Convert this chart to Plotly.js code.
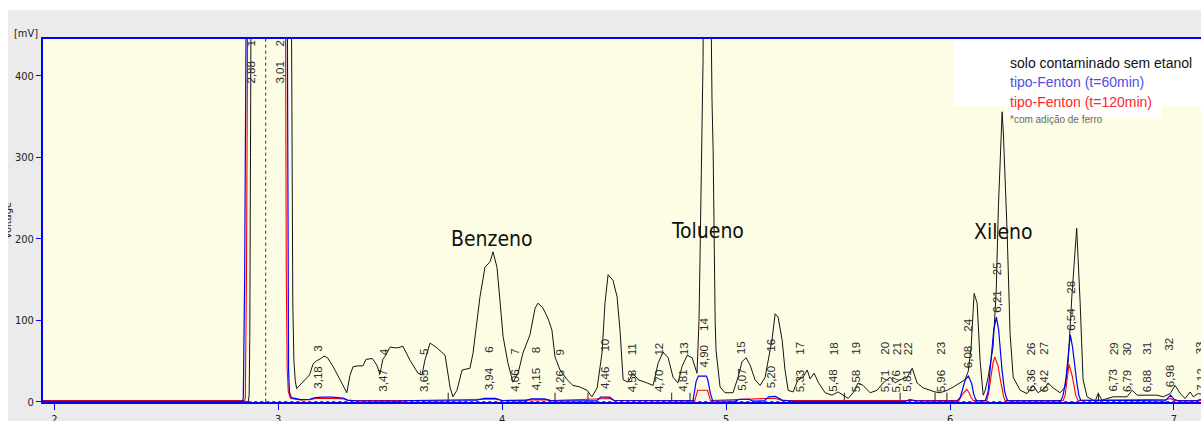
<!DOCTYPE html>
<html>
<head>
<meta charset="utf-8">
<script src="https://cdn.plot.ly/plotly-3.0.1.min.js"></script>
<style>
  html, body { margin: 0; padding: 0; background: #ffffff; width: 1201px; height: 421px; overflow: hidden; }
  #chart { position: absolute; left: 8px; top: 10px; width: 1193px; height: 411px; overflow: hidden; }
</style>
</head>
<body>
<div id="chart"></div>
<script>
// Chromatogram traces: retention time (min) vs detector signal (mV)
const blackTime = [1.945,2.866,2.870,2.873,2.876,2.879,2.884,3.052,3.057,3.061,3.065,3.070,3.076,3.082,3.10,3.12,3.14,3.155,3.17,3.19,3.205,3.22,3.245,3.276,3.306,3.320,3.334,3.356,3.378,3.392,3.420,3.440,3.454,3.467,3.480,3.499,3.530,3.557,3.588,3.624,3.642,3.655,3.678,3.709,3.745,3.767,3.780,3.798,3.821,3.856,3.870,3.901,3.923,3.946,3.959,3.977,3.990,4.004,4.026,4.048,4.071,4.093,4.124,4.147,4.160,4.182,4.205,4.222,4.236,4.258,4.290,4.316,4.348,4.379,4.401,4.424,4.446,4.459,4.473,4.495,4.513,4.526,4.540,4.562,4.584,4.607,4.647,4.674,4.696,4.718,4.741,4.763,4.785,4.803,4.826,4.848,4.870,4.879,4.884,4.892,4.897,4.901,4.915,4.928,4.933,4.937,4.942,4.946,4.951,4.955,4.964,4.973,4.995,5.031,5.053,5.071,5.089,5.107,5.129,5.152,5.174,5.187,5.205,5.219,5.232,5.250,5.263,5.277,5.299,5.321,5.344,5.362,5.375,5.393,5.411,5.442,5.473,5.500,5.522,5.545,5.567,5.589,5.612,5.643,5.674,5.701,5.732,5.755,5.777,5.808,5.831,5.853,5.880,5.911,5.933,5.956,5.987,6.014,6.045,6.067,6.081,6.094,6.1075,6.121,6.134,6.148,6.157,6.170,6.192,6.206,6.216,6.226,6.2325,6.238,6.255,6.268,6.282,6.313,6.344,6.371,6.393,6.4245,6.438,6.460,6.4915,6.514,6.527,6.5438,6.5655,6.581,6.594,6.612,6.635,6.648,6.661,6.679,6.728,6.760,6.790,6.813,6.836,6.880,6.925,6.952,6.983,7.005,7.028,7.050,7.072,7.086,7.108,7.140];
const blackMv = [0,0,8,80,300,600,900,900,600,300,120,50,26,16,21,27,33,46,50,53,56,54,43,27,11,32,43,44,44,52,53,45,34,52,57,67,66,68,51,35,33,51,72,66,57,18,6,14,39,41,60,129,165,172,184,165,121,80,47,24,35,60,82,115,121,115,102,88,55,39,27,20,18,14,6,17,60,121,156,149,129,88,27,24,35,27,23,20,47,61,54,30,23,43,57,54,35,100,186,346,420,600,800,600,432,370,309,186,100,63,39,18,11,11,30,49,54,45,27,20,30,51,76,108,104,76,39,14,12,27,30,39,28,35,24,11,8,12,8,4,11,23,20,11,14,23,30,23,27,30,41,23,17,14,12,11,14,18,23,27,37,67,133,121,51,8,14,30,67,135,240,320,356,330,207,84,30,14,10,20,11,17,23,17,11,18,47,129,213,121,27,6,2,0.5,10,2,6,6,6,14,8,8,8,6,10,20,10,4,12,6,10,8];

const blueTime = [1.945,2.840,2.844,2.850,2.856,2.860,3.035,3.039,3.043,3.046,3.050,3.058,3.075,3.10,3.14,3.165,3.20,3.24,3.29,3.31,3.35,3.40,3.55,3.60,3.70,3.88,3.92,3.97,4.00,4.10,4.13,4.19,4.22,4.42,4.44,4.48,4.50,4.852,4.858,4.866,4.876,4.912,4.918,4.930,4.940,5.04,5.06,5.10,5.12,5.17,5.19,5.22,5.25,5.30,5.80,5.82,5.85,6.030,6.045,6.060,6.068,6.082,6.097,6.105,6.112,6.12,6.157,6.170,6.180,6.195,6.207,6.217,6.232,6.243,6.251,6.258,6.494,6.505,6.517,6.529,6.537,6.547,6.556,6.5655,6.575,6.583,6.96,6.975,6.985,7.00,7.02,7.10,7.12,7.14];
const blueMv = [0.5,0.5,5,150,450,900,900,450,150,40,12,5,4,2.5,3,5,5.5,5.5,4.5,2,1,0.8,0.8,1.5,1,1.5,4,4,1.5,1,3.5,3.5,1,1,5.5,5.5,1.5,1,10,25,31.5,31.5,27,10,1,0.8,3,3,0.8,1,6,6.5,2,0.5,0.5,2.5,1,0.8,5,20,27,31.5,22,10,4,1,1,12,39,88,104,88,39,14,5,1,1,8,27,59,82,67,45,25,8,2,1,6,8,3,1,1,3,3];

const redTime = [1.945,2.850,2.853,2.858,2.863,2.868,3.028,3.032,3.036,3.040,3.045,3.055,3.075,3.10,3.14,3.17,3.24,3.29,3.31,3.60,3.92,3.97,4.00,4.13,4.19,4.22,4.44,4.48,4.50,4.860,4.866,4.873,4.917,4.923,4.930,5.19,5.22,5.25,6.040,6.052,6.066,6.0745,6.085,6.0924,6.103,6.164,6.172,6.180,6.192,6.200,6.215,6.224,6.232,6.240,6.246,6.505,6.514,6.522,6.531,6.546,6.554,6.561,6.572,6.975,6.985,7.00,7.14];
const redMv = [1.5,1.5,5,150,450,900,900,450,150,40,12,4,3,2,2.5,4,4,3.5,1.5,1.5,3,3,1.5,2.5,2.5,1.5,4,4,1.5,1.5,7,14,14,8,1.5,4,4,1.5,1.5,8,13,15,11,6,1.5,1.5,10,27,48,55,43,28,14,5,1.5,1.5,8,25,46,31,18,8,1.5,3,4,1.5,1.5];

// Integrated peaks: number and retention time
const peakNumbers = [1,2,3,4,5,6,7,8,9,10,11,12,13,14,15,16,17,18,19,20,21,22,23,24,25,26,27,28,29,30,31,32,33];
const peakTimes = [2.88,3.01,3.18,3.47,3.65,3.94,4.06,4.15,4.26,4.46,4.58,4.70,4.81,4.90,5.07,5.20,5.33,5.48,5.58,5.71,5.76,5.81,5.96,6.08,6.21,6.36,6.42,6.54,6.73,6.79,6.88,6.98,7.12];

// Identified compounds
const compoundNames = ['Benzeno', 'Tolueno', 'Xileno'];
const compoundTimes = [3.94, 4.90, 6.21];

const seriesNames = ['solo contaminado sem etanol', 'tipo-Fenton (t=60min)', 'tipo-Fenton (t=120min)'];
const footnote = '*com adição de ferro';

// Integration cut marks and dead-time marker
const cutTimes = [3.759, 4.236, 4.383, 4.757, 4.839, 5.528, 5.777, 5.933, 5.986, 6.663];
const deadTime = 2.944;

const X_RANGE = [1.9495, 7.1206];
const Y_RANGE = [-0.37, 445.4];

const narrow = '"Liberation Sans Narrow", "DejaVu Sans Condensed", "Liberation Sans", sans-serif';
const sans = '"Liberation Sans", Arial, sans-serif';

function interp(xs, ys, x) {
  if (x <= xs[0]) return ys[0];
  for (let i = 1; i < xs.length; i++) {
    if (x <= xs[i]) {
      const f = (x - xs[i - 1]) / (xs[i] - xs[i - 1]);
      return ys[i - 1] + f * (ys[i] - ys[i - 1]);
    }
  }
  return ys[ys.length - 1];
}

// cut marks as short vertical segments
const cutX = [], cutY = [];
cutTimes.forEach(t => { cutX.push(t, t, null); cutY.push(0, 11, null); });

const traces = [
  { x: blackTime, y: blackMv, mode: 'lines', line: { color: '#141414', width: 1 }, hoverinfo: 'skip' },
  { x: [blackTime[1], X_RANGE[1] + 0.1], y: [0, 0], mode: 'lines', line: { color: '#222', width: 1, dash: '3px,3px' }, hoverinfo: 'skip' },
  { x: [deadTime, deadTime], y: [0, Y_RANGE[1] + 10], mode: 'lines', line: { color: '#333', width: 1, dash: '3px,3px' }, hoverinfo: 'skip' },
  { x: cutX, y: cutY, mode: 'lines', line: { color: '#222', width: 1 }, hoverinfo: 'skip' },
  { x: redTime, y: redMv, mode: 'lines', line: { color: '#ff0000', width: 1.1 }, hoverinfo: 'skip' },
  { x: blueTime, y: blueMv, mode: 'lines', line: { color: '#0000ff', width: 1.2 }, hoverinfo: 'skip' }
];

const annotations = [];
const labelFont = { family: sans, size: 11.5, color: '#2a2a2a' };

// peak labels: retention time just above the blue trace, peak number above it
peakTimes.forEach((t, i) => {
  const base = Math.min(Math.max(interp(blueTime, blueMv, t), 1.5) + 9, 390);
  annotations.push({
    x: t, y: base, xref: 'x', yref: 'y', text: t.toFixed(2).replace('.', ','),
    textangle: -90, showarrow: false, xanchor: 'center', yanchor: 'bottom', font: labelFont,
    borderpad: 0
  });
  annotations.push({
    x: t, y: base, xref: 'x', yref: 'y', text: String(peakNumbers[i]),
    textangle: -90, showarrow: false, xanchor: 'center', yanchor: 'bottom', yshift: 37, font: labelFont,
    borderpad: 0
  });
});

// compound names
const compoundLift = [200, 210, 209];
const compoundShift = [3, 4, 6];
compoundNames.forEach((name, i) => {
  annotations.push({
    x: compoundTimes[i], y: compoundLift[i], xref: 'x', yref: 'y', text: name, showarrow: false,
    xanchor: 'center', yanchor: 'middle', xshift: compoundShift[i],
    font: { family: narrow, size: 21, color: '#111' }
  });
});

// legend block
const legendColors = ['#111111', '#4f4fe0', '#ff2626'];
const legendY = [0.9339, 0.8815, 0.8264];
seriesNames.forEach((name, i) => {
  annotations.push({
    x: 0.8333, y: legendY[i], xref: 'paper', yref: 'paper', text: name, showarrow: false,
    xanchor: 'left', yanchor: 'middle', font: { family: sans, size: 14, color: legendColors[i] }
  });
});
annotations.push({
  x: 0.8333, y: 0.7769, xref: 'paper', yref: 'paper', text: footnote, showarrow: false,
  xanchor: 'left', yanchor: 'middle', font: { family: sans, size: 10, color: '#6a6a6a' }
});

// axis captions
annotations.push({
  x: -0.0147, y: 1.0165, xref: 'paper', yref: 'paper', text: '[mV]', showarrow: false,
  xanchor: 'center', yanchor: 'middle', font: { family: narrow, size: 11, color: '#222' }
});
annotations.push({
  x: 0, y: 0.4986, xref: 'paper', yref: 'paper', text: 'Voltage', showarrow: false, textangle: -90,
  xanchor: 'center', yanchor: 'middle', xshift: -36, font: { family: narrow, size: 11, color: '#222' }
});

const layout = {
  width: 1193, height: 411,
  margin: { l: 35, r: 0, t: 29, b: 19, pad: 0 },
  paper_bgcolor: '#ebebeb',
  plot_bgcolor: '#fdfde6',
  showlegend: false,
  xaxis: {
    range: X_RANGE, tickvals: [2, 3, 4, 5, 6, 7], ticktext: ['2', '3', '4', '5', '6', '7'],
    ticks: 'outside', ticklen: 6, tickwidth: 1, tickcolor: '#0000ff',
    showline: true, linecolor: '#0000ff', linewidth: 2, mirror: true,
    showgrid: false, zeroline: false,
    tickfont: { family: narrow, size: 11, color: '#222' }
  },
  yaxis: {
    range: Y_RANGE, tickvals: [0, 100, 200, 300, 400],
    ticks: 'outside', ticklen: 5, tickwidth: 1, tickcolor: '#0000ff',
    showline: true, linecolor: '#0000ff', linewidth: 2,
    showgrid: false, zeroline: false,
    tickfont: { family: narrow, size: 11, color: '#222' }
  },
  shapes: [
    { type: 'rect', xref: 'paper', yref: 'paper', x0: 0.7858, x1: 1.0, y0: 0.8154, y1: 0.9972,
      fillcolor: '#ffffff', line: { width: 0 }, layer: 'above' },
    { type: 'rect', xref: 'paper', yref: 'paper', x0: 0.8307, x1: 0.9663, y0: 0.7851, y1: 0.8154,
      fillcolor: '#ffffff', line: { width: 0 }, layer: 'above' }
  ],
  annotations: annotations
};

Plotly.newPlot('chart', traces, layout, { staticPlot: true, displayModeBar: false });
</script>
</body>
</html>
